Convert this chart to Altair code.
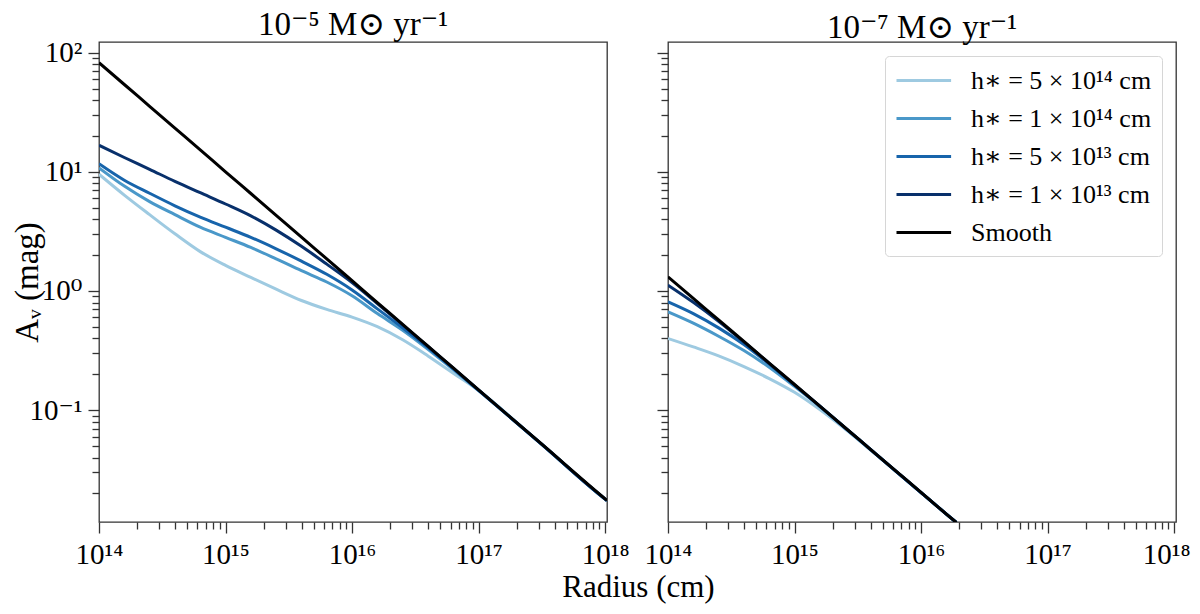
import altair as alt
import pandas as pd

FONT = "Liberation Serif, DejaVu Serif, serif"

series_names = ["h∗ = 5 × 10¹⁴ cm", "h∗ = 1 × 10¹⁴ cm", "h∗ = 5 × 10¹³ cm",
                "h∗ = 1 × 10¹³ cm", "Smooth"]
series_colors = ["#9ecae1", "#4a98c9", "#1764ab", "#08306b", "#000000"]
panel_titles = ["10⁻⁵ M⊙ yr⁻¹", "10⁻⁷ M⊙ yr⁻¹"]
x_title = "Radius (cm)"
y_title = "Aᵥ (mag)"

x_major = [1e14, 1e15, 1e16, 1e17, 1e18]
x_tick_labels = ["10¹⁴", "10¹⁵", "10¹⁶", "10¹⁷", "10¹⁸"]
y_major = [0.1, 1.0, 10.0, 100.0]
y_tick_labels = ["10⁻¹", "10⁰", "10¹", "10²"]
x_minor = [m * 10.0 ** e for e in range(14, 18) for m in range(2, 10)]
y_minor = [m * 10.0 ** e for e in range(-2, 2) for m in range(2, 10)]

# ---- 1e-5 Msun/yr panel ----
left_r = [1.0e14, 1.585e14, 2.512e14, 3.981e14, 6.31e14, 1.0e15, 1.585e15, 2.512e15,
          3.981e15, 6.31e15, 1.0e16, 1.585e16, 2.512e16, 3.981e16, 6.31e16, 1.0e17,
          3.162e17, 1.0e18, 1.035e18]
left_h5e14 = [9.55, 6.38, 4.37, 3.02, 2.14, 1.64, 1.30, 1.035, 0.832, 0.70, 0.603,
              0.501, 0.389, 0.285, 0.204, 0.146, 0.0514, 0.0179, 0.0174]
left_h1e14 = [10.8, 7.59, 5.62, 4.37, 3.43, 2.82, 2.32, 1.86, 1.48, 1.19, 0.912,
              0.646, 0.468, 0.324, 0.219, 0.146, 0.0515, 0.0179, 0.0174]
left_h5e13 = [11.7, 8.51, 6.61, 5.19, 4.17, 3.43, 2.82, 2.26, 1.78, 1.38, 1.02,
              0.708, 0.49, 0.335, 0.223, 0.147, 0.0515, 0.0179, 0.0174]
left_h1e13 = [16.7, 13.2, 10.5, 8.32, 6.68, 5.37, 4.27, 3.24, 2.37, 1.68, 1.175,
              0.785, 0.52, 0.342, 0.225, 0.147, 0.0515, 0.0179, 0.0174]
left_smooth = [82.4, 54.1, 35.5, 23.3, 15.3, 10.0, 6.58, 4.32, 2.83, 1.86, 1.22,
               0.80, 0.525, 0.344, 0.226, 0.148, 0.0517, 0.0180, 0.01746]

# ---- 1e-7 Msun/yr panel ----
right_r = [1.0e14, 1.585e14, 2.512e14, 3.981e14, 6.31e14, 1.0e15, 1.585e15, 2.512e15,
           3.981e15, 6.31e15, 1.0e16, 1.585e16, 1.9e16]
right_h5e14 = [0.399, 0.339, 0.285, 0.232, 0.184, 0.141, 0.101, 0.0692, 0.0462,
               0.0308, 0.0203, 0.0134, 0.0114]
right_h1e14 = [0.668, 0.537, 0.417, 0.316, 0.229, 0.158, 0.107, 0.0709, 0.0468,
               0.0308, 0.0203, 0.0134, 0.0114]
right_h5e13 = [0.811, 0.646, 0.490, 0.355, 0.243, 0.162, 0.108, 0.0710, 0.0468,
               0.0308, 0.0203, 0.0134, 0.0114]
right_h1e13 = [1.12, 0.803, 0.556, 0.373, 0.247, 0.163, 0.108, 0.0710, 0.0468,
               0.0308, 0.0203, 0.0134, 0.0114]
right_smooth = [1.315, 0.867, 0.571, 0.377, 0.248, 0.164, 0.108, 0.0711, 0.0469,
                0.0309, 0.0204, 0.0134, 0.0114]


def make_df(r_list, series_lists):
    rows = []
    for name, vals in zip(series_names, series_lists):
        for r, a in zip(r_list, vals):
            rows.append({"r": r, "A": a, "series": name})
    return pd.DataFrame(rows)


df_left = make_df(left_r, [left_h5e14, left_h1e14, left_h5e13, left_h1e13, left_smooth])
df_right = make_df(right_r, [right_h5e14, right_h1e14, right_h5e13, right_h1e13, right_smooth])


def label_expr(vals, labels):
    parts = [f"abs(datum.value / {v!r} - 1) < 1e-6 ? '{l}'" for v, l in zip(vals, labels)]
    return " : ".join(parts) + " : ''"


xs = alt.Scale(type="log", domain=[1e14, 1.035e18], nice=False)
ys = alt.Scale(type="log", domain=[0.0115, 123], nice=False)


def panel(df, title, first):
    base = alt.Chart(df)
    y_axis_kwargs = dict(values=y_major, tickSize=11, orient="left", labelPadding=6,
                         labelOverlap=False, labelFlush=False)
    x_axis_kwargs = dict(values=x_major, labelExpr=label_expr(x_major, x_tick_labels),
                         tickSize=11, orient="bottom", labelPadding=7,
                         labelFlush=False, labelOverlap=False)
    if first:
        y_axis = alt.Axis(labelExpr=label_expr(y_major, y_tick_labels),
                          title=y_title, titleX=-72, titleY=240, titleAngle=270,
                          titleBaseline="middle", titleAlign="center", **y_axis_kwargs)
        x_axis = alt.Axis(title=x_title, titleX=539, titleY=74.5, titleAlign="center",
                          titleBaseline="alphabetic", titleFontSize=31, **x_axis_kwargs)
        legend = None
    else:
        y_axis = alt.Axis(labels=False, title=None, **y_axis_kwargs)
        x_axis = alt.Axis(title=None,
                          labelOffset={"condition": {"test": "datum.value > 5e17", "value": -8},
                                       "value": 0},
                          **x_axis_kwargs)
        legend = alt.Legend(title=None, orient="top-right", offset=14,
                            symbolType="M-1,0H3.2", symbolSize=676, symbolStrokeWidth=3,
                            symbolFillColor="transparent",
                            labelFont=FONT, labelFontSize=26, labelColor="black",
                            labelLimit=0, labelOffset=47, rowPadding=10, padding=10,
                            strokeColor="#d6d6d6", fillColor="white", cornerRadius=4)
    lines = base.mark_line(strokeWidth=3, clip=True, interpolate="monotone").encode(
        x=alt.X("r:Q", scale=xs, axis=x_axis),
        y=alt.Y("A:Q", scale=ys, axis=y_axis),
        color=alt.Color("series:N", sort=series_names,
                        scale=alt.Scale(domain=series_names, range=series_colors),
                        legend=legend),
    )
    minor = base.mark_line(strokeOpacity=0, clip=True).encode(
        x=alt.X("r:Q", scale=xs,
                axis=alt.Axis(values=x_minor, labels=False, tickSize=7, orient="bottom",
                              title=None)),
        y=alt.Y("A:Q", scale=ys,
                axis=alt.Axis(values=y_minor, labels=False, tickSize=7, orient="left",
                              title=None)),
        detail="series:N",
    )
    return alt.layer(lines, minor).resolve_axis(x="independent", y="independent").properties(
        width=508, height=480,
        title=alt.TitleParams(title, fontSize=33, font=FONT, fontWeight="normal",
                              anchor="middle", frame="group", offset=-3, color="black"),
    )


chart = alt.hconcat(
    panel(df_left, panel_titles[0], True),
    panel(df_right, panel_titles[1], False),
    spacing=61,
    bounds="flush",
).resolve_scale(color="independent").resolve_legend(color="independent").properties(
    padding={"left": 2, "top": 0, "right": 0, "bottom": 0},
    background="white",
).configure_view(
    stroke="#333333", strokeWidth=1.3
).configure_axis(
    grid=False, domain=False, tickColor="#333333", tickWidth=1.3,
    labelFont=FONT, labelFontSize=29, labelColor="black",
    titleFont=FONT, titleFontSize=33, titleFontWeight="normal", titleColor="black",
)

chart.save("out.html", embed_options={"renderer": "svg", "actions": False})
